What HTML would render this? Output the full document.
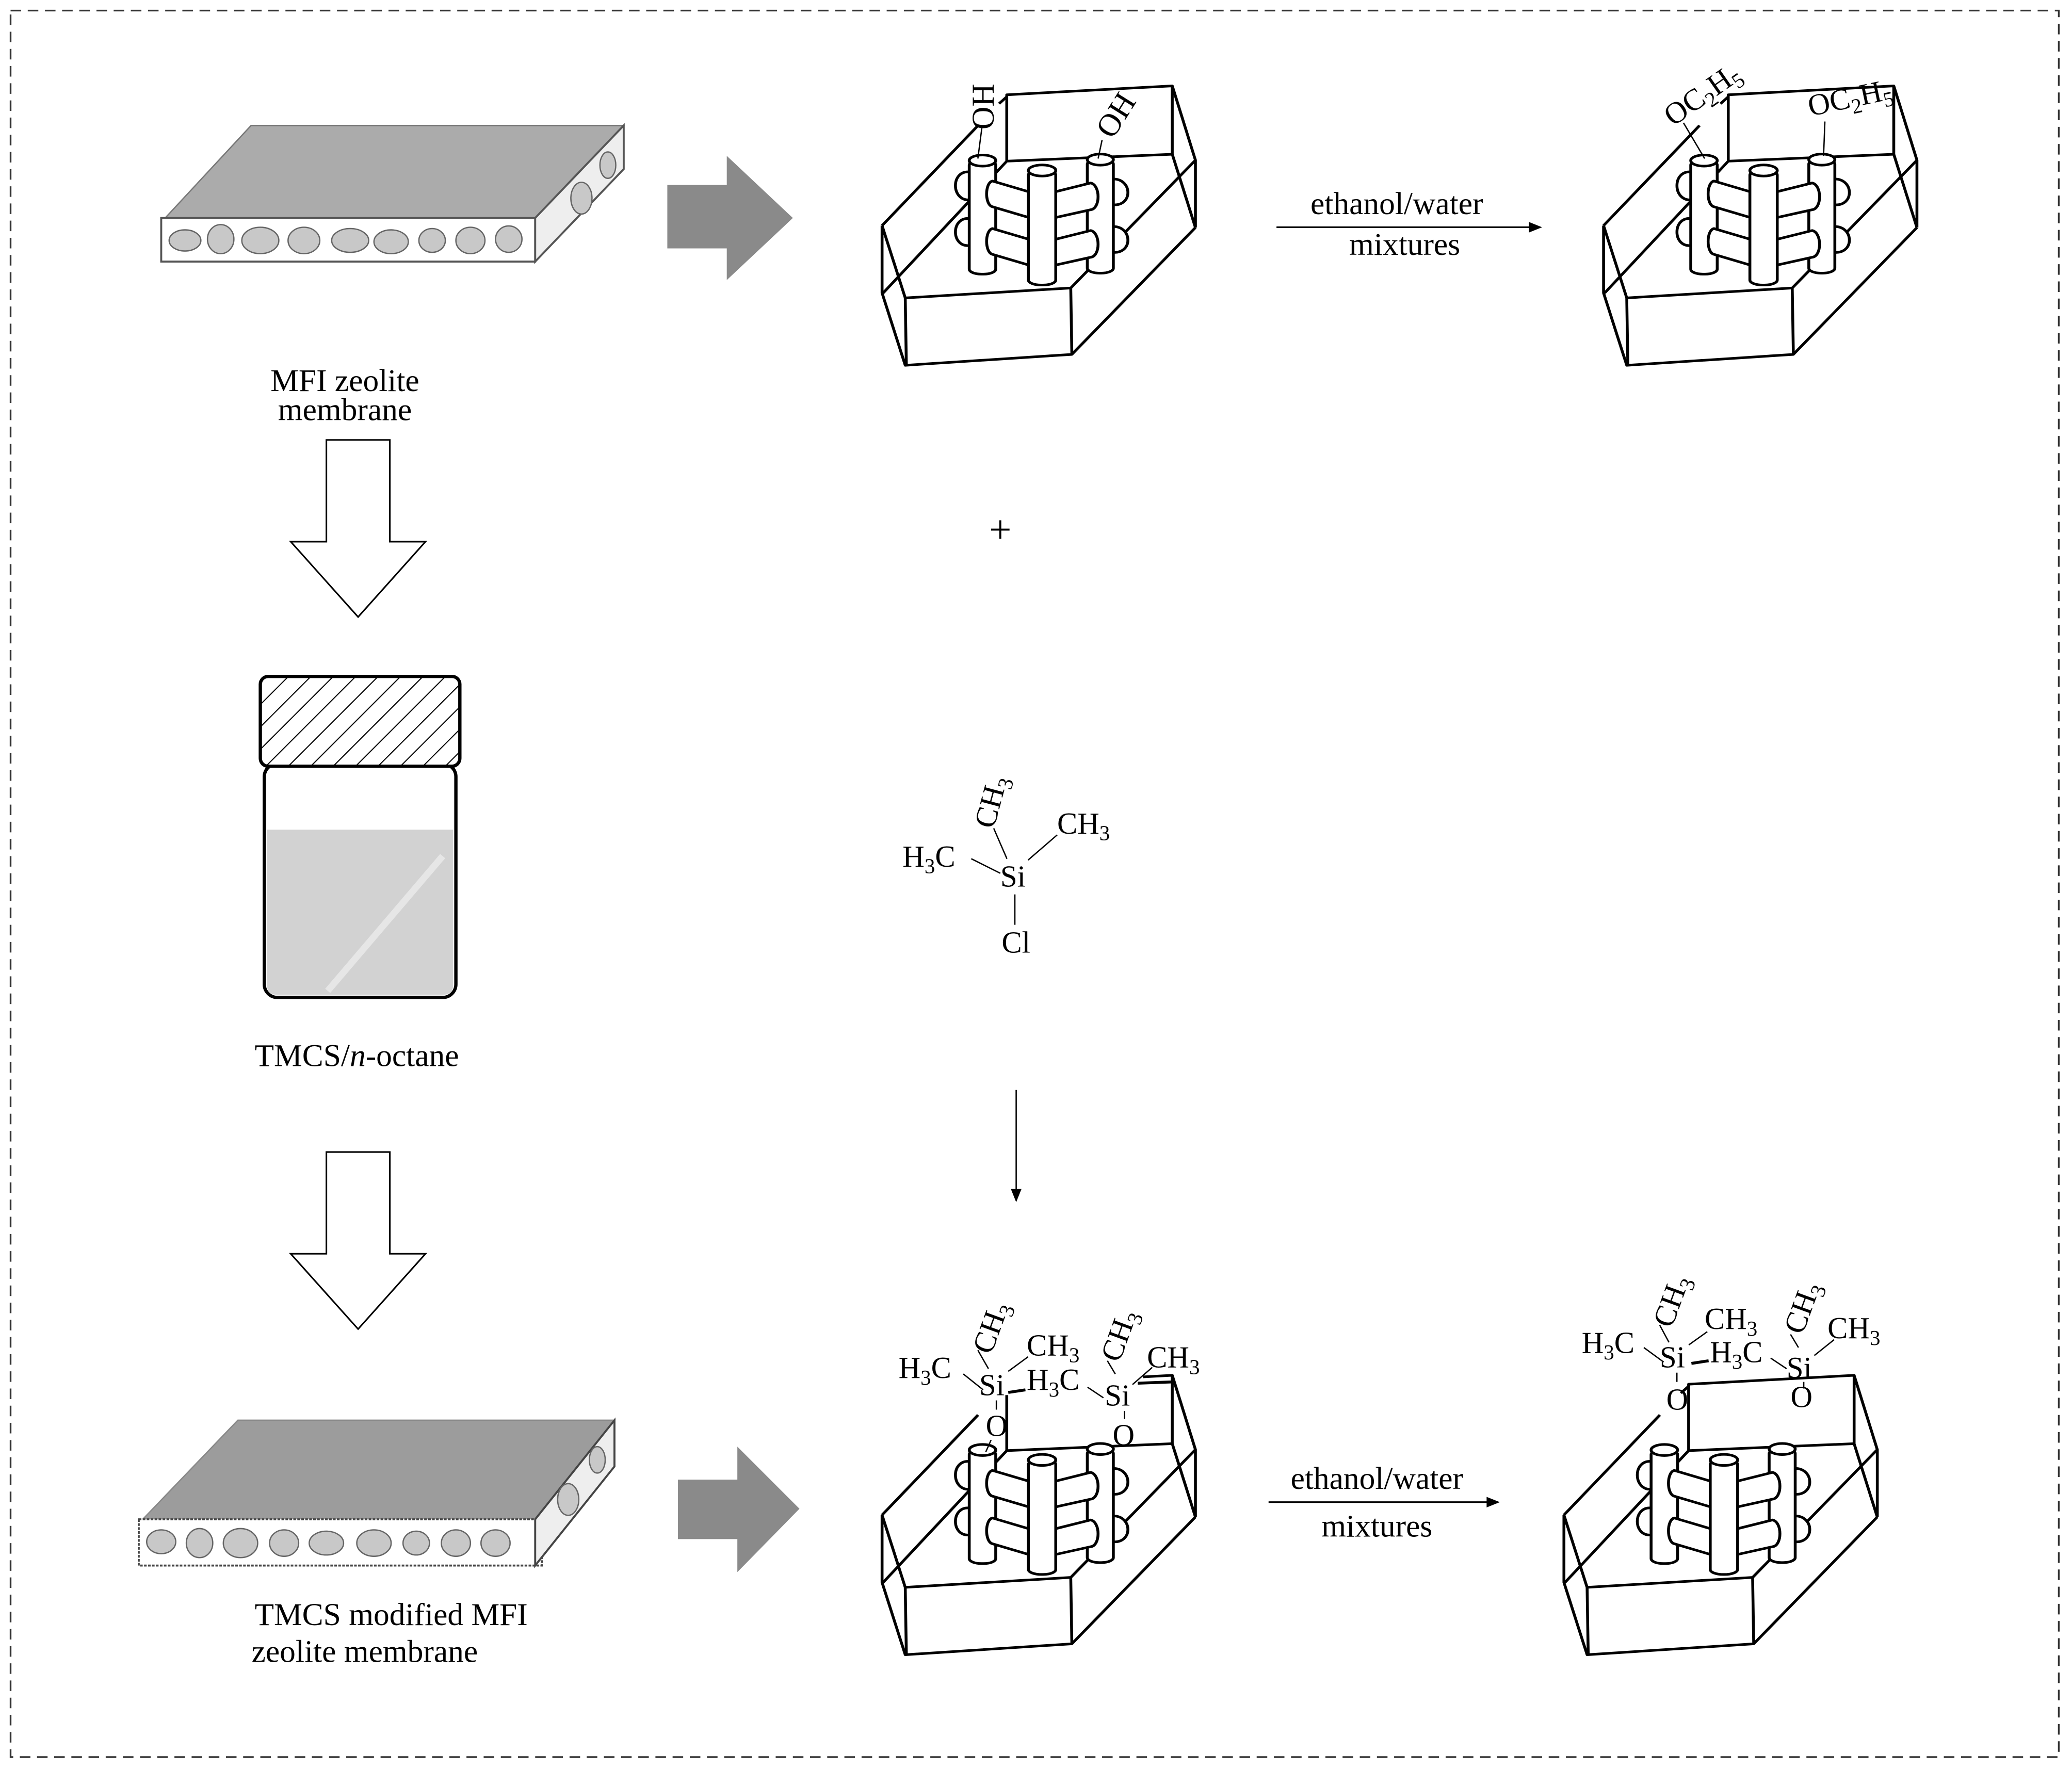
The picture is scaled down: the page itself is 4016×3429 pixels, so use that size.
<!DOCTYPE html>
<html><head><meta charset="utf-8"><style>
html,body{margin:0;padding:0;background:#fff}
svg{display:block}
text{font-family:"Liberation Serif",serif;fill:#000}
</style></head><body>
<svg width="4016" height="3429" viewBox="0 0 1568 1339" preserveAspectRatio="none" xmlns="http://www.w3.org/2000/svg">
<defs>
<pattern id="hatch" width="12" height="12" patternUnits="userSpaceOnUse" patternTransform="rotate(45)">
<rect width="12" height="12" fill="#fff"/><line x1="0" y1="0" x2="0" y2="12" stroke="#000" stroke-width="1.6"/></pattern>
<g id="cry" fill="none" stroke="#000" stroke-width="13" stroke-linejoin="round">
<path d="M45,825 L480,320 M575,210 L610,175 M610,165 L1360,120 L1360,465 L610,500 Z M1360,120 L1465,495 L1465,835 M1360,465 L1465,835 M45,825 L150,1190 L900,1140 L1465,495 M45,825 L45,1165 L150,1530 L905,1475 L1465,835 M150,1190 L155,1530 M900,1140 L905,1475 M50,1165 L610,500"/>
<g fill="#fff">
<path d="M445,555 C355,540 355,705 445,695 Z M445,790 C355,775 355,940 445,925 Z M1088,590 C1180,585 1185,730 1088,720 Z M1088,830 C1180,825 1185,970 1088,960 Z"/>
<rect x="440" y="495" width="120" height="575" rx="55" ry="25"/>
<ellipse cx="500" cy="497" rx="60" ry="28"/>
<rect x="975" y="490" width="118" height="575" rx="55" ry="25"/>
<ellipse cx="1034" cy="492" rx="59" ry="28"/>
<path d="M545,600 L712,655 L712,785 L545,730 C510,720 510,610 545,600 Z M545,840 L712,895 L712,1025 L545,970 C510,960 510,850 545,840 Z"/>
<path d="M828,655 L990,610 C1035,620 1035,740 990,745 L828,785 Z M828,895 L990,850 C1035,860 1035,980 990,985 L828,1025 Z"/>
<rect x="708" y="545" width="124" height="580" rx="58" ry="25"/>
<ellipse cx="770" cy="547" rx="62" ry="28"/>
</g></g>
<g id="tri">
<path d="M247,0 L295,0 L295,77 L322,77 L271,134 L220,77 L247,77 Z" fill="#fff" stroke="#000" stroke-width="1.2"/>
</g>
</defs>
<rect x="8" y="8" width="1550" height="1322" fill="none" stroke="#333" stroke-width="1.3" stroke-dasharray="8,5"/>

<!-- membrane 1 -->
<path d="M125,165 L190,95 L472,95 L405,165 Z" fill="#ababab" stroke="#777" stroke-width="1"/>
<rect x="122" y="165" width="283" height="33" fill="#fff" stroke="#555" stroke-width="1.5"/>
<path d="M405,165 L472,95 L472,128 L405,198 Z" fill="#eee" stroke="#555" stroke-width="1.5"/>
<g fill="#c8c8c8" stroke="#666" stroke-width="1">
<ellipse cx="140" cy="182" rx="12" ry="8"/><ellipse cx="167" cy="181" rx="10" ry="11"/><ellipse cx="197" cy="182" rx="14" ry="10"/>
<ellipse cx="230" cy="182" rx="12" ry="10"/><ellipse cx="265" cy="182" rx="14" ry="9"/><ellipse cx="296" cy="183" rx="13" ry="9"/>
<ellipse cx="327" cy="182" rx="10" ry="9"/><ellipse cx="356" cy="182" rx="11" ry="10"/><ellipse cx="385" cy="181" rx="10" ry="10"/>
<ellipse cx="440" cy="150" rx="8" ry="12"/><ellipse cx="460" cy="125" rx="6" ry="10"/></g>
<text x="261" y="296" font-size="24" text-anchor="middle">MFI zeolite</text>
<text x="261" y="318" font-size="24" text-anchor="middle">membrane</text>
<path d="M505,140 L550,140 L550,118 L600,165 L550,212 L550,188 L505,188 Z" fill="#8a8a8a"/>

<use href="#tri" transform="translate(0,333)"/>
<!-- bottle -->
<rect x="200" y="578" width="145" height="177" rx="10" fill="#fff" stroke="#000" stroke-width="2.5"/>
<path d="M202,628 L343,628 L343,745 Q343,753 335,753 L210,753 Q202,753 202,745 Z" fill="#d2d2d2"/>
<line x1="248" y1="750" x2="335" y2="648" stroke="#e6e6e6" stroke-width="5"/>
<rect x="197" y="512" width="151" height="68" rx="6" fill="url(#hatch)" stroke="#000" stroke-width="2.5"/>
<text x="270" y="807" font-size="24" text-anchor="middle">TMCS/<tspan font-style="italic">n</tspan>-octane</text>
<use href="#tri" transform="translate(0,872)"/>

<!-- membrane 2 -->
<path d="M108,1150 L180,1075 L465,1075 L405,1150 Z" fill="#9c9c9c" stroke="#888" stroke-width="1"/>
<rect x="105" y="1150" width="305" height="35" fill="#fff" stroke="#444" stroke-width="1.5" stroke-dasharray="2,1"/>
<path d="M405,1150 L465,1075 L465,1110 L405,1185 Z" fill="#eee" stroke="#444" stroke-width="1.5"/>
<g fill="#c8c8c8" stroke="#666" stroke-width="1">
<ellipse cx="122" cy="1167" rx="11" ry="9"/><ellipse cx="151" cy="1168" rx="10" ry="11"/><ellipse cx="182" cy="1168" rx="13" ry="11"/>
<ellipse cx="215" cy="1168" rx="11" ry="10"/><ellipse cx="247" cy="1168" rx="13" ry="9"/><ellipse cx="283" cy="1168" rx="13" ry="10"/>
<ellipse cx="315" cy="1168" rx="10" ry="9"/><ellipse cx="345" cy="1168" rx="11" ry="10"/><ellipse cx="375" cy="1168" rx="11" ry="10"/>
<ellipse cx="430" cy="1135" rx="8" ry="12"/><ellipse cx="452" cy="1105" rx="6" ry="10"/></g>
<text x="296" y="1230" font-size="24" text-anchor="middle">TMCS modified MFI</text>
<text x="276" y="1258" font-size="24" text-anchor="middle">zeolite membrane</text>
<path d="M513,1120 L558,1120 L558,1095 L605,1142 L558,1190 L558,1165 L513,1165 Z" fill="#8a8a8a"/>

<!-- crystals -->
<use href="#cry" transform="translate(660,47) scale(0.167,0.15)"/>
<use href="#cry" transform="translate(1206,47) scale(0.167,0.15)"/>
<use href="#cry" transform="translate(660,1023) scale(0.167,0.15)"/>
<use href="#cry" transform="translate(1176,1023) scale(0.167,0.15)"/>

<!-- crystal 1 labels -->
<line x1="743" y1="97" x2="740" y2="120" stroke="#000" stroke-width="1"/>
<line x1="834" y1="106" x2="831" y2="120" stroke="#000" stroke-width="1"/>
<text font-size="24" transform="translate(752,98) rotate(-90)">OH</text>
<text font-size="24" transform="translate(842,106) rotate(-58)">OH</text>

<!-- top reaction arrow -->
<text x="1057" y="162" font-size="24" text-anchor="middle">ethanol/water</text>
<line x1="966" y1="172" x2="1160" y2="172" stroke="#000" stroke-width="1.2"/>
<path d="M1167,172 L1157,168 L1157,176 Z"/>
<text x="1063" y="193" font-size="24" text-anchor="middle">mixtures</text>

<!-- crystal 2 labels -->
<line x1="1274" y1="93" x2="1290" y2="120" stroke="#000" stroke-width="1"/>
<line x1="1381" y1="92" x2="1380" y2="118" stroke="#000" stroke-width="1"/>
<text font-size="23" transform="translate(1266,96) rotate(-35)">OC<tspan font-size="16" dy="5">2</tspan><tspan dy="-5">H</tspan><tspan font-size="16" dy="5">5</tspan></text>
<text font-size="23" transform="translate(1370,88) rotate(-12)">OC<tspan font-size="16" dy="5">2</tspan><tspan dy="-5">H</tspan><tspan font-size="16" dy="5">5</tspan></text>

<text x="757" y="411" font-size="30" text-anchor="middle">+</text>

<!-- TMCS molecule -->
<text font-size="23" transform="translate(752,628) rotate(-75)">CH<tspan font-size="16" dy="5">3</tspan></text>
<text x="800" y="631" font-size="23">CH<tspan font-size="16" dy="5">3</tspan></text>
<text x="683" y="656" font-size="23">H<tspan font-size="16" dy="5">3</tspan><tspan dy="-5">C</tspan></text>
<text x="757" y="671" font-size="23">Si</text>
<text x="758" y="721" font-size="23">Cl</text>
<g stroke="#000" stroke-width="1">
<line x1="752" y1="627" x2="762" y2="650"/><line x1="778" y1="651" x2="800" y2="632"/>
<line x1="735" y1="650" x2="757" y2="661"/><line x1="768" y1="677" x2="768" y2="700"/>
<line x1="769" y1="825" x2="769" y2="902"/></g>
<path d="M769,910 L765,900 L773,900 Z"/>

<!-- crystal 3 labels -->
<rect x="735" y="1030" width="130" height="26" fill="#fff"/>
<text x="680" y="1043" font-size="23">H<tspan font-size="16" dy="5">3</tspan><tspan dy="-5">C</tspan></text>
<text font-size="23" transform="translate(750,1026) rotate(-70)">CH<tspan font-size="16" dy="5">3</tspan></text>
<text x="777" y="1026" font-size="23">CH<tspan font-size="16" dy="5">3</tspan></text>
<text x="741" y="1056" font-size="23">Si</text>
<text x="777" y="1052" font-size="23">H<tspan font-size="16" dy="5">3</tspan><tspan dy="-5">C</tspan></text>
<text x="836" y="1064" font-size="23">Si</text>
<text font-size="23" transform="translate(847,1032) rotate(-70)">CH<tspan font-size="16" dy="5">3</tspan></text>
<text x="868" y="1035" font-size="23">CH<tspan font-size="16" dy="5">3</tspan></text>
<text x="746" y="1087" font-size="23">O</text>
<text x="842" y="1094" font-size="23">O</text>
<g stroke="#000" stroke-width="1">
<line x1="729" y1="1040" x2="744" y2="1052"/><line x1="740" y1="1022" x2="748" y2="1036"/><line x1="763" y1="1038" x2="778" y2="1027"/>
<line x1="754" y1="1060" x2="754" y2="1067"/><line x1="750" y1="1090" x2="746" y2="1099"/>
<line x1="823" y1="1050" x2="835" y2="1058"/><line x1="838" y1="1030" x2="844" y2="1040"/><line x1="857" y1="1048" x2="872" y2="1035"/>
<line x1="851" y1="1068" x2="851" y2="1074"/>
<path d="M763,1054 L776,1052 M861,1047 L887,1046" stroke-width="2.2"/></g>

<!-- bottom reaction arrow -->
<text x="1042" y="1127" font-size="24" text-anchor="middle">ethanol/water</text>
<line x1="960" y1="1137" x2="1128" y2="1137" stroke="#000" stroke-width="1.2"/>
<path d="M1135,1137 L1125,1133 L1125,1141 Z"/>
<text x="1042" y="1163" font-size="24" text-anchor="middle">mixtures</text>

<!-- crystal 4 labels -->
<rect x="1250" y="1012" width="140" height="26" fill="#fff"/>
<text x="1197" y="1024" font-size="23">H<tspan font-size="16" dy="5">3</tspan><tspan dy="-5">C</tspan></text>
<text font-size="23" transform="translate(1265,1006) rotate(-70)">CH<tspan font-size="16" dy="5">3</tspan></text>
<text x="1290" y="1006" font-size="23">CH<tspan font-size="16" dy="5">3</tspan></text>
<text x="1256" y="1035" font-size="23">Si</text>
<text x="1294" y="1031" font-size="23">H<tspan font-size="16" dy="5">3</tspan><tspan dy="-5">C</tspan></text>
<text x="1352" y="1043" font-size="23">Si</text>
<text font-size="23" transform="translate(1364,1011) rotate(-70)">CH<tspan font-size="16" dy="5">3</tspan></text>
<text x="1383" y="1013" font-size="23">CH<tspan font-size="16" dy="5">3</tspan></text>
<text x="1261" y="1067" font-size="23">O</text>
<text x="1355" y="1065" font-size="23">O</text>
<g stroke="#000" stroke-width="1">
<line x1="1244" y1="1020" x2="1259" y2="1031"/><line x1="1256" y1="1003" x2="1263" y2="1016"/><line x1="1278" y1="1018" x2="1292" y2="1008"/>
<line x1="1269" y1="1039" x2="1269" y2="1046"/><line x1="1340" y1="1028" x2="1352" y2="1036"/><line x1="1355" y1="1010" x2="1361" y2="1020"/>
<line x1="1373" y1="1026" x2="1388" y2="1014"/><line x1="1365" y1="1046" x2="1365" y2="1051"/>
<path d="M1280,1032 L1293,1030" stroke-width="2.2"/></g>
</svg>
</body></html>
